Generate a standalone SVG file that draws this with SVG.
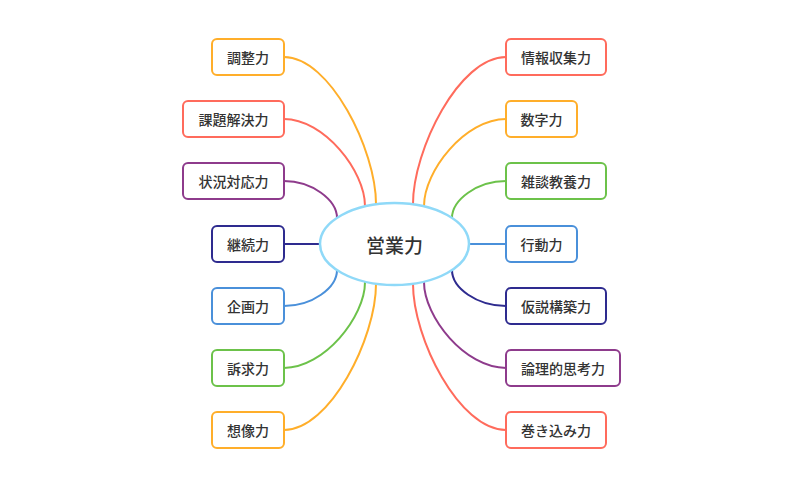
<svg xmlns="http://www.w3.org/2000/svg" width="800" height="498" viewBox="0 0 800 498">
<style>
.box{fill:#fff;stroke-width:2}
.t{font-family:"Noto Sans CJK JP","Noto Sans",sans-serif;font-size:14px;font-weight:500;fill:#333;text-anchor:middle;dominant-baseline:central}
.c{fill:none;stroke-width:2}
.orange{stroke:#FFAE2A}.red{stroke:#FF6B5C}.purple{stroke:#8E3B8C}.navy{stroke:#2E2B8F}.blue{stroke:#4A90DA}.green{stroke:#6CC24A}
</style>
<rect width="800" height="498" fill="#fff"/>
<g id="connectors">
<path class="c orange" d="M284,57 C330,57 376,150 376,204"/>
<path class="c red" d="M284,119 C324,119 365,171 365,206"/>
<path class="c purple" d="M284,181 C312,181 337,200 337,218"/>
<path class="c navy" d="M284,244 L322,244"/>
<path class="c blue" d="M284,306 C312,306 337,288 337,270"/>
<path class="c green" d="M284,368 C324,368 365,317 365,282"/>
<path class="c orange" d="M284,430 C330,430 376,338 376,284"/>
<path class="c red" d="M506,57 C459,57 413,150 413,204"/>
<path class="c orange" d="M506,119 C465,119 424,171 424,206"/>
<path class="c green" d="M506,181 C477,181 452,200 452,218"/>
<path class="c blue" d="M506,244 L467,244"/>
<path class="c navy" d="M506,306 C477,306 452,288 452,270"/>
<path class="c purple" d="M506,368 C465,368 424,317 424,282"/>
<path class="c red" d="M506,430 C459,430 413,338 413,284"/>
</g>
<g id="center">
<ellipse cx="394.5" cy="244" rx="74.5" ry="41" fill="#fff" stroke="#8FD9F8" stroke-width="2.5"/>
<text x="394.5" y="244" class="t" style="font-size:19px">営業力</text>
</g>
<g id="n-chosei"><rect class="box orange" x="212" y="39" width="72" height="36" rx="5"/><text class="t" x="248" y="57">調整力</text></g>
<g id="n-kadai"><rect class="box red" x="183" y="101" width="101" height="36" rx="5"/><text class="t" x="233.5" y="119">課題解決力</text></g>
<g id="n-jokyo"><rect class="box purple" x="183" y="163" width="101" height="36" rx="5"/><text class="t" x="233.5" y="181">状況対応力</text></g>
<g id="n-keizoku"><rect class="box navy" x="212" y="226" width="72" height="36" rx="5"/><text class="t" x="248" y="244">継続力</text></g>
<g id="n-kikaku"><rect class="box blue" x="212" y="288" width="72" height="36" rx="5"/><text class="t" x="248" y="306">企画力</text></g>
<g id="n-sokyu"><rect class="box green" x="212" y="350" width="72" height="36" rx="5"/><text class="t" x="248" y="368">訴求力</text></g>
<g id="n-sozo"><rect class="box orange" x="212" y="412" width="72" height="36" rx="5"/><text class="t" x="248" y="430">想像力</text></g>
<g id="n-joho"><rect class="box red" x="506" y="39" width="100" height="36" rx="5"/><text class="t" x="556" y="57">情報収集力</text></g>
<g id="n-suji"><rect class="box orange" x="506" y="101" width="71" height="36" rx="5"/><text class="t" x="541.5" y="119">数字力</text></g>
<g id="n-zatsudan"><rect class="box green" x="506" y="163" width="100" height="36" rx="5"/><text class="t" x="556" y="181">雑談教養力</text></g>
<g id="n-kodo"><rect class="box blue" x="506" y="226" width="71" height="36" rx="5"/><text class="t" x="541.5" y="244">行動力</text></g>
<g id="n-kasetsu"><rect class="box navy" x="506" y="288" width="100" height="36" rx="5"/><text class="t" x="556" y="306">仮説構築力</text></g>
<g id="n-ronri"><rect class="box purple" x="506" y="350" width="114" height="36" rx="5"/><text class="t" x="563" y="368">論理的思考力</text></g>
<g id="n-makikomi"><rect class="box red" x="506" y="412" width="100" height="36" rx="5"/><text class="t" x="556" y="430">巻き込み力</text></g>
</svg>
